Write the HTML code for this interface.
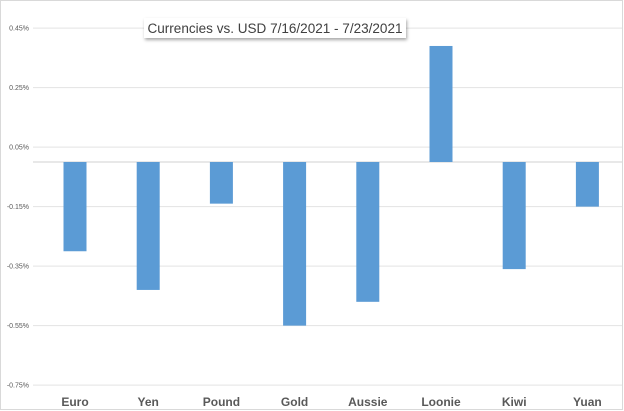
<!DOCTYPE html>
<html><head><meta charset="utf-8"><style>
body{margin:0;background:#fff;}
svg{display:block;font-family:"Liberation Sans",sans-serif;}
</style></head><body>
<svg id="chart" width="624" height="411" viewBox="0 0 624 411">
<defs><filter id="sh" x="-10%" y="-30%" width="130%" height="180%"><feDropShadow dx="1" dy="2" stdDeviation="1.5" flood-color="#000" flood-opacity="0.35"/></filter></defs>
<rect x="0.5" y="0.5" width="622" height="409" fill="#fff" stroke="#d9d9d9"/>
<g id="grid"></g><g id="bars"></g><g id="labels"></g>
<g>
<rect x="144" y="18" width="262" height="20" fill="#fff" filter="url(#sh)"/>
<text x="275" y="33" text-anchor="middle" font-size="13.5" fill="#404040" textLength="255" lengthAdjust="spacingAndGlyphs">Currencies vs. USD 7/16/2021 - 7/23/2021</text>
</g>
</svg>
<script>
const categories=["Euro","Yen","Pound","Gold","Aussie","Loonie","Kiwi","Yuan"];
const values=[-0.30,-0.43,-0.14,-0.55,-0.47,0.39,-0.36,-0.15];
const ticks=[0.45,0.25,0.05,-0.15,-0.35,-0.55,-0.75];
const tickLabels=["0.45%","0.25%","0.05%","-0.15%","-0.35%","-0.55%","-0.75%"];
const NS="http://www.w3.org/2000/svg";
const gx0=33,x0=38.4,step=73.2,bw=23;
function y(v){return 162-v*297.5;}
function xc(i){return x0+step*(i+0.5);}
function mk(tag,attrs,parent){const e=document.createElementNS(NS,tag);for(const k in attrs)e.setAttribute(k,attrs[k]);document.getElementById(parent).appendChild(e);return e;}
ticks.forEach((t,i)=>{
  const l=mk("line",{x1:gx0,x2:622,y1:y(t),y2:y(t),stroke:"#e3e3e3","stroke-width":1},"grid");
  
  
  const tx=mk("text",{x:29,y:y(t)+2.5,"text-anchor":"end","font-size":7,fill:"#595959"},"labels");
  tx.textContent=tickLabels[i];
  
  
});
const ax=mk("line",{x1:gx0,x2:622,y1:y(0),y2:y(0),stroke:"#d0d0d0","stroke-width":1},"grid");


values.forEach((v,i)=>{
  const top=Math.min(y(0),y(v)),h=Math.abs(y(v)-y(0));
  const r=mk("rect",{x:xc(i)-bw/2,y:top,width:bw,height:h,fill:"#5b9bd5"},"bars");
  
  
  const t=mk("text",{x:xc(i),y:406,"text-anchor":"middle","font-size":12,"font-weight":"bold",fill:"#595959"},"labels");
  t.textContent=categories[i];
  
  
});
</script>
</body></html>
